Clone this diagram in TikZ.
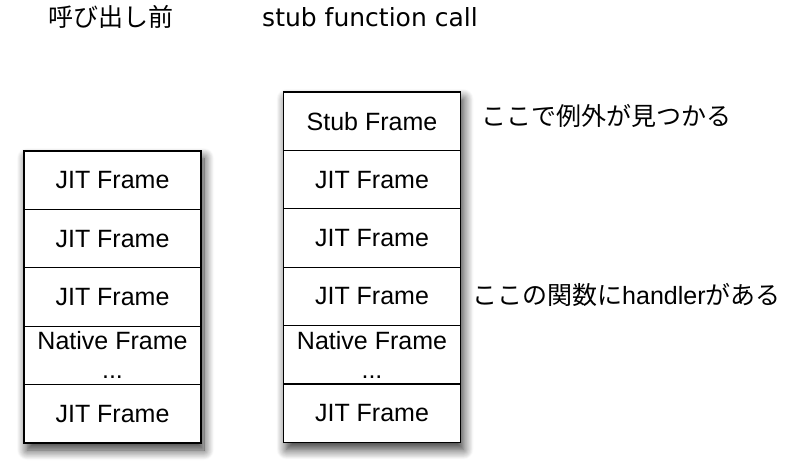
\documentclass[tikz,border=0pt]{standalone}
\usepackage{fontspec}
\setmainfont{Liberation Sans}
\newfontfamily\jp{Noto Sans CJK JP}
\newfontfamily\titlefont{DejaVu Sans}
\usetikzlibrary{positioning,fit,backgrounds,shadows.blur}

\tikzset{
  frame/.style={draw=black, line width=1.3pt, fill=white, minimum width=177pt,
    minimum height=58.4pt, inner sep=0pt, outer sep=0pt, align=center,
    font=\fontsize{25}{29}\selectfont},
  stackshadow/.style={fill=white, inner sep=0pt,
    blur shadow={shadow xshift=3pt, shadow yshift=-7pt, shadow blur radius=10pt,
      shadow blur steps=12, shadow opacity=80}},
  caption/.style={font=\fontsize{25}{29}\selectfont, inner sep=0pt}
}

\begin{document}
\begin{tikzpicture}[x=1pt,y=-1pt]
\useasboundingbox (0,0) rectangle (788,475);

\node[caption] (tbefore) at (111,17) {\jp 呼び出し前};
\node[caption] (tstub) at (370,17) {\titlefont stub function call};

% before the call
\node[frame] (l1) at (112.5,180.2) {JIT Frame};
\node[frame, below=0pt of l1] (l2) {JIT Frame};
\node[frame, below=0pt of l2] (l3) {JIT Frame};
\node[frame, below=0pt of l3] (l4) {Native Frame\\...};
\node[frame, below=0pt of l4] (l5) {JIT Frame};

% stub function call
\node[frame] (r0) at (372,121.2) {Stub Frame};
\node[frame, below=0pt of r0] (r1) {JIT Frame};
\node[frame, below=0pt of r1] (r2) {JIT Frame};
\node[frame, below=0pt of r2] (r3) {JIT Frame};
\node[frame, below=0pt of r3] (r4) {Native Frame\\...};
\node[frame, below=0pt of r4] (r5) {JIT Frame};

\begin{scope}[on background layer]
\node[stackshadow, fit=(l1)(l5)] (lshadow) {};
\node[stackshadow, fit=(r0)(r5)] (rshadow) {};
\end{scope}

\node[caption, anchor=west] (found) at (481,116) {\jp ここで例外が見つかる};
\node[caption, anchor=west] (handler) at (472,295) {\jp ここの関数に\rmfamily handler\jp がある};
\end{tikzpicture}
\end{document}
